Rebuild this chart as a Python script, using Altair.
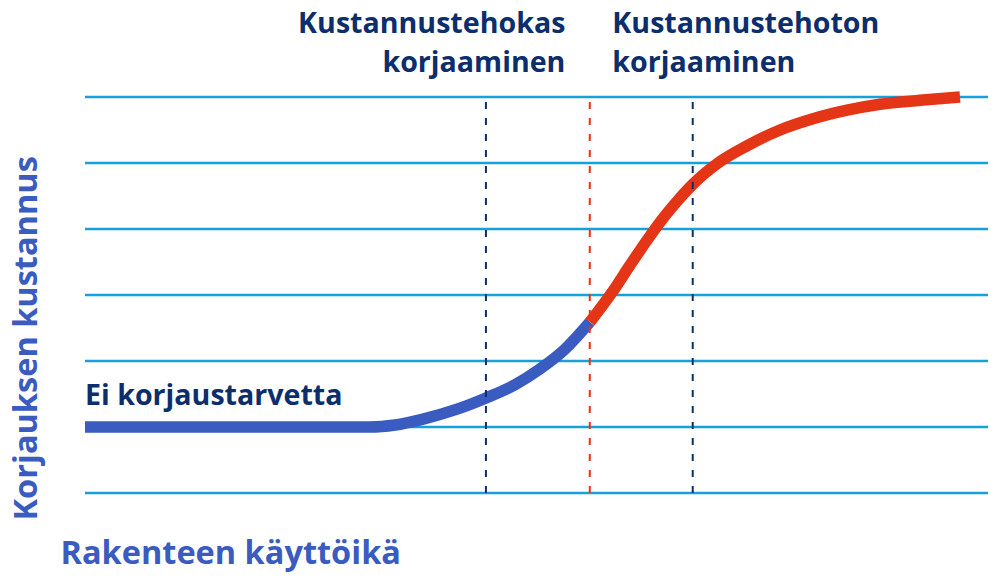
import altair as alt
import pandas as pd

# ---- data ----
grid_levels = [0, 1, 2, 3, 4, 5, 6]
grid_x_start = 0
grid_x_end = 100

blue_x = [0, 31.56, 34.33, 37.43, 41.20, 44.41, 47.62, 50.39, 53.16, 55.92]
blue_y = [1.0, 1.0, 1.03, 1.12, 1.27, 1.44, 1.64, 1.88, 2.18, 2.59]
red_x = [55.92, 58.47, 60.35, 62.24, 64.23, 65.89, 67.33, 70.32, 73.31, 76.97,
         80.62, 84.39, 88.04, 92.47, 96.90]
red_y = [2.59, 3.06, 3.45, 3.83, 4.20, 4.47, 4.68, 5.02, 5.26, 5.50,
         5.67, 5.80, 5.89, 5.95, 6.0]

marker_x = [44.4, 55.9, 67.3]
marker_kind = ["navy", "red", "navy"]

right_texts = ["Kustannustehokas", "korjaaminen"]
right_x = [53.2, 53.2]
right_y = [6.97, 6.38]

left_texts = ["Kustannustehoton", "korjaaminen", "Ei korjaustarvetta"]
left_x = [58.4, 58.4, 0]
left_y = [6.97, 6.38, 1.33]

# ---- styles ----
NAVY = "#0c2e6c"
BLUE = "#3a5bbf"
RED = "#e53517"
GRID = "#14a1dc"
FONT = "Open Sans"

grid_df = pd.DataFrame({"level": grid_levels,
                        "x0": [grid_x_start] * len(grid_levels),
                        "x1": [grid_x_end] * len(grid_levels)})
curve_df = pd.DataFrame({
    "x": blue_x + red_x,
    "y": blue_y + red_y,
    "series": ["blue"] * len(blue_x) + ["red"] * len(red_x),
})
marker_df = pd.DataFrame({"pos": marker_x, "kind": marker_kind,
                          "y0": [0] * 3, "y1": [6] * 3})
right_df = pd.DataFrame({"t": right_texts, "x": right_x, "y": right_y})
left_df = pd.DataFrame({"t": left_texts, "x": left_x, "y": left_y})

xs = alt.Scale(domain=[0, 100], nice=False, zero=False)
ys = alt.Scale(domain=[0, 6], nice=False, zero=False)

xaxis = alt.Axis(title="Rakenteen käyttöikä", labels=False, ticks=False,
                 domain=False, grid=False, titleFont=FONT, titleFontSize=32.5,
                 titleFontWeight="bold", titleColor=BLUE, titleAlign="left",
                 titleBaseline="alphabetic", titleX=-25, titleY=70)
yaxis = alt.Axis(title="Korjauksen kustannus", labels=False, ticks=False,
                 domain=False, grid=False, titleFont=FONT, titleFontSize=32.5,
                 titleFontWeight="bold", titleColor=BLUE, titleAngle=270,
                 titleAlign="left", titleBaseline="alphabetic",
                 titleX=-49, titleY=423)


def X(field):
    return alt.X(field, scale=xs, axis=xaxis, title="Rakenteen käyttöikä")


def Y(field):
    return alt.Y(field, scale=ys, axis=yaxis, title="Korjauksen kustannus")


grid = alt.Chart(grid_df).mark_rule(color=GRID, strokeWidth=2.5).encode(
    x=X("x0:Q"), x2="x1:Q", y=Y("level:Q"),
)

curve = alt.Chart(curve_df).mark_line(
    strokeWidth=11.5, strokeCap="butt", interpolate="monotone"
).encode(
    x=X("x:Q"), y=Y("y:Q"),
    color=alt.Color("series:N", scale=alt.Scale(domain=["blue", "red"], range=[BLUE, RED]),
                    legend=None),
)

markers = alt.Chart(marker_df).mark_rule(strokeWidth=2, strokeDash=[7, 9]).encode(
    x=X("pos:Q"), y=Y("y0:Q"), y2="y1:Q",
    color=alt.Color("kind:N", scale=alt.Scale(domain=["navy", "red"], range=[NAVY, RED]),
                    legend=None),
)

right_text = alt.Chart(right_df).mark_text(
    align="right", baseline="alphabetic", font=FONT, fontWeight="bold",
    fontSize=28.6, color=NAVY
).encode(x=X("x:Q"), y=Y("y:Q"), text="t:N")

left_text = alt.Chart(left_df).mark_text(
    align="left", baseline="alphabetic", font=FONT, fontWeight="bold",
    fontSize=28.6, color=NAVY
).encode(x=X("x:Q"), y=Y("y:Q"), text="t:N")

chart = alt.layer(grid, curve, markers, right_text, left_text).resolve_scale(
    color="independent"
).properties(
    width=903, height=396,
    autosize=alt.AutoSizeParams(type="none"),
    padding={"left": 77, "top": 89, "right": 4, "bottom": 80},
).configure_view(stroke=None)

chart.save("out.html", embed_options={"renderer": "svg", "actions": False})
